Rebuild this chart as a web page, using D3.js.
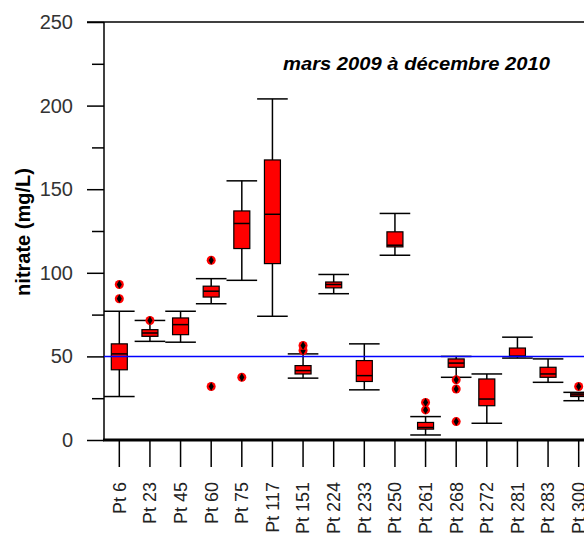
<!DOCTYPE html>
<html>
<head>
<meta charset="utf-8">
<script src="https://cdn.jsdelivr.net/npm/d3@7"></script>
<style>
  body { margin: 0; background: #fff; }
  text { font-family: Arial, "Liberation Sans", sans-serif; }
</style>
</head>
<body>
<svg id="chart" width="584" height="541"></svg>
<script>
// stations
const categories = ["Pt 6", "Pt 23", "Pt 45", "Pt 60", "Pt 75", "Pt 117", "Pt 151", "Pt 224",
  "Pt 233", "Pt 250", "Pt 261", "Pt 268", "Pt 272", "Pt 281", "Pt 283", "Pt 300"];

// box stats (mg/L)
const whiskerLow = [26, 59, 58.5, 81.5, 95.5, 74, 37, 87.5, 30, 110.5, 3, 37.5, 10, 49, 34.5, 23.5];
const q1 = [42, 62, 63, 85.5, 114.5, 105.5, 39.5, 91, 35, 115.5, 6.5, 43.5, 20.5, 49.8, 37.5, 26];
const median = [51.5, 64, 69, 89, 129.5, 135, 41.5, 93, 38.5, 116.5, 7.5, 46, 24.5, 50.2, 39.5, 27];
const q3 = [57.5, 66, 73, 92, 137, 167.5, 44.5, 94.5, 47.5, 124.5, 10.5, 48.5, 36.5, 55, 43.5, 28];
const whiskerHigh = [77, 71.5, 77, 96.5, 155, 204, 51.5, 99, 57.5, 135.5, 14, 50, 39.5, 61.5, 48.5, 28.5];
const outliers = [[93, 84.5], [71.5], [], [107.5, 32], [37.5], [], [53.5, 56.5], [], [], [], [18, 22.5],
  [36, 30.5, 11], [], [], [], [32]];

const yTicks = [0, 50, 100, 150, 200, 250];
const yMinorTicks = [25, 75, 125, 175, 225];
const limit = 50;
const title = "mars 2009 à décembre 2010";
const yLabel = "nitrate (mg/L)";

const svg = d3.select("#chart");

const x = d3.scaleBand().domain(categories).range([104, 594]);
const y = d3.scaleLinear().domain([0, 250]).range([440, 22]);

// y axis
const yAxis = svg.append("g").attr("transform", "translate(104,0)")
  .call(d3.axisLeft(y).tickValues(yTicks).tickSize(17).tickPadding(14));
yAxis.select(".domain").remove();
yAxis.selectAll("line").attr("stroke", "#000").attr("stroke-width", 1.5);
yAxis.selectAll("text").attr("font-size", 20).attr("fill", "#333").style("font-family", "Arial, 'Liberation Sans', sans-serif");

svg.append("g").attr("transform", "translate(104,0)")
  .call(d3.axisLeft(y).tickValues(yMinorTicks).tickSize(12).tickFormat(""))
  .call(g => g.select(".domain").remove())
  .selectAll("line").attr("stroke", "#000").attr("stroke-width", 1.5);

svg.append("line").attr("x1", 104).attr("x2", 104).attr("y1", y(250)).attr("y2", y(0))
  .attr("stroke", "#000").attr("stroke-width", 1.5);
svg.append("line").attr("x1", 87).attr("x2", 584).attr("y1", y(250)).attr("y2", y(250))
  .attr("stroke", "#000").attr("stroke-width", 1.5);

// x axis
const xAxis = svg.append("g").attr("transform", "translate(0,440)")
  .call(d3.axisBottom(x).tickSize(27).tickPadding(0));
xAxis.select(".domain").remove();
xAxis.selectAll("line").attr("stroke", "#000").attr("stroke-width", 1.5);
xAxis.selectAll("text")
  .attr("font-size", 18).attr("fill", "#222")
  .style("font-family", "Arial, 'Liberation Sans', sans-serif")
  .attr("text-anchor", "end")
  .attr("transform", "translate(0,42) rotate(-90)")
  .attr("x", 0).attr("y", 0).attr("dy", "0.35em");
svg.append("line").attr("x1", 103).attr("x2", 584).attr("y1", 440).attr("y2", 440)
  .attr("stroke", "#000").attr("stroke-width", 3);

// boxes
const boxW = 16;
const g = svg.append("g");
categories.forEach((c, i) => {
  const cx = x(c) + x.bandwidth() / 2;
  const bw = x.bandwidth();
  g.append("line").attr("x1", cx).attr("x2", cx).attr("y1", y(whiskerHigh[i])).attr("y2", y(whiskerLow[i]))
    .attr("stroke", "#000").attr("stroke-width", 1.5);
  [whiskerHigh[i], whiskerLow[i]].forEach(v => {
    g.append("line").attr("x1", cx - bw / 2).attr("x2", cx + bw / 2).attr("y1", y(v)).attr("y2", y(v))
      .attr("stroke", "#000").attr("stroke-width", 1.5);
  });
  g.append("rect").attr("x", cx - boxW / 2).attr("width", boxW)
    .attr("y", y(q3[i])).attr("height", y(q1[i]) - y(q3[i]))
    .attr("fill", "#ff0000").attr("stroke", "#000").attr("stroke-width", 1.2);
  g.append("line").attr("x1", cx - boxW / 2).attr("x2", cx + boxW / 2)
    .attr("y1", y(median[i])).attr("y2", y(median[i]))
    .attr("stroke", "#000").attr("stroke-width", 1.5);
  outliers[i].forEach(v => {
    g.append("circle").attr("cx", cx).attr("cy", y(v)).attr("r", 4.5).attr("fill", "#ff0000");
    g.append("path").attr("d", d3.symbol(d3.symbolDiamond, 22)())
      .attr("transform", `translate(${cx},${y(v)})`).attr("fill", "#000");
  });
});

// limit line
svg.append("line").attr("x1", 104).attr("x2", 584).attr("y1", y(limit)).attr("y2", y(limit))
  .attr("stroke", "#0000ff").attr("stroke-width", 1.5);

// labels
svg.append("text").attr("x", 283).attr("y", 70).text(title)
  .attr("font-size", 18).attr("font-weight", "bold").attr("font-style", "italic")
  .attr("textLength", 267).attr("lengthAdjust", "spacingAndGlyphs");

svg.append("text").attr("transform", "translate(30,232) rotate(-90)")
  .attr("text-anchor", "middle").attr("font-size", 20).attr("font-weight", "bold")
  .text(yLabel);
</script>
</body>
</html>
